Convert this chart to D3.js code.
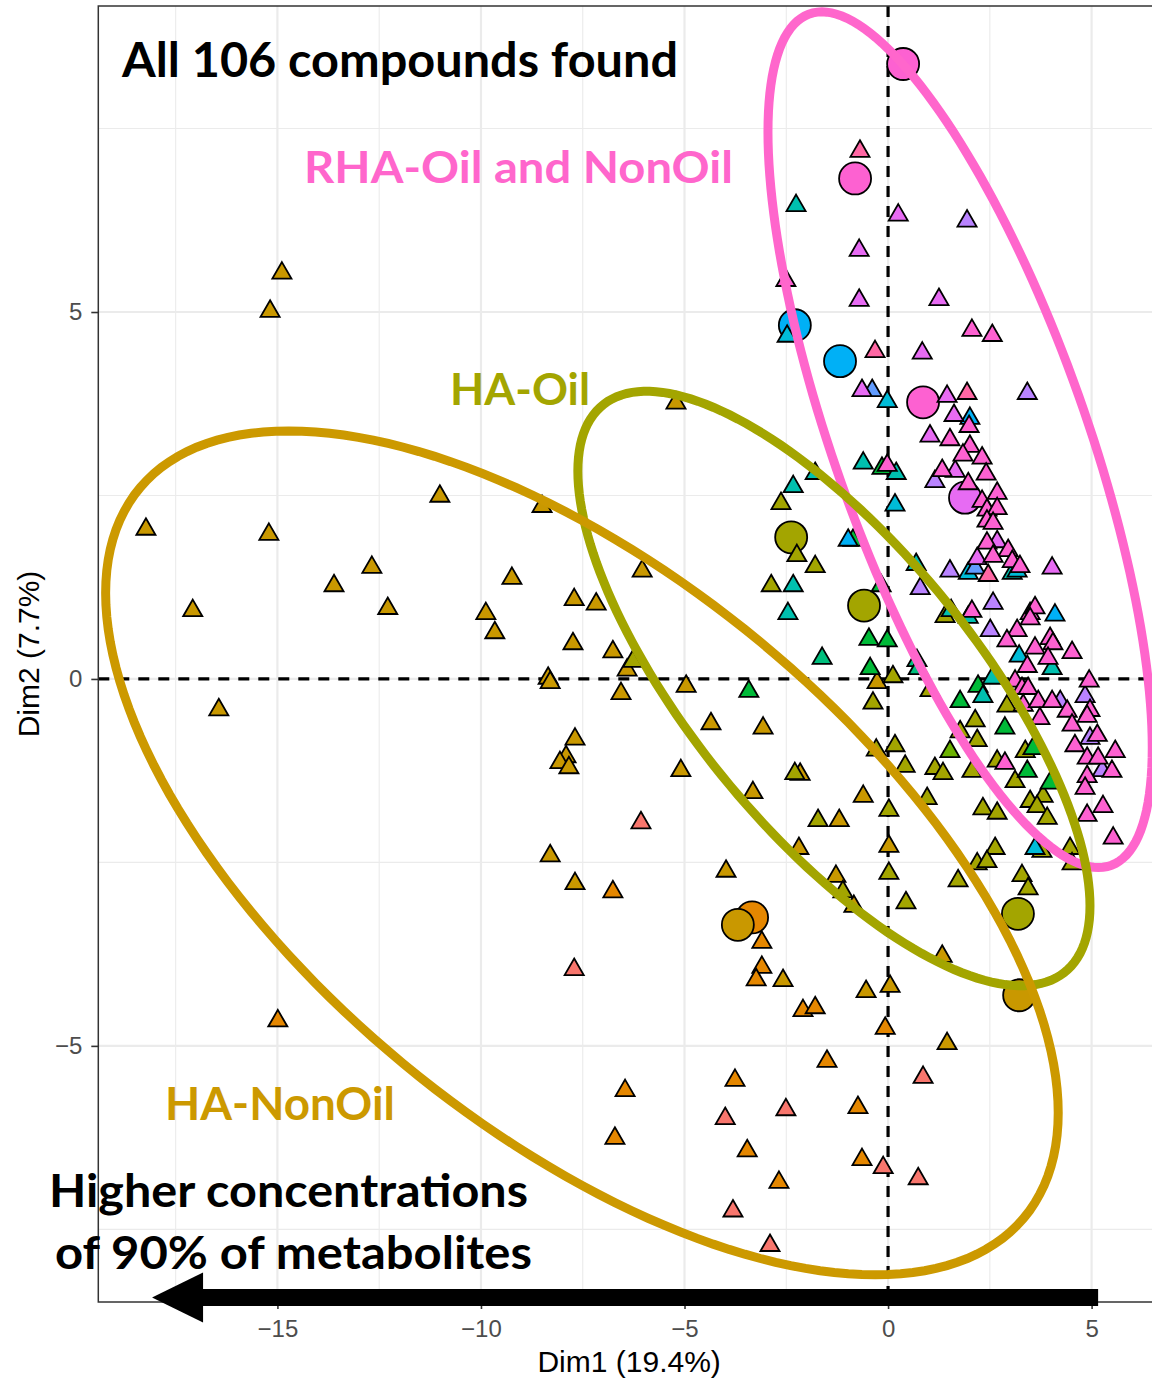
<!DOCTYPE html>
<html>
  <head>
    <meta charset="utf-8">
    <title>All 106 compounds - PCA</title>
    <style media="screen">
      body {margin:0; background:#fff}
      text {font-family: "Liberation Sans", Arial, sans-serif}
      .note {font-family: Lato, "Open Sans", sans-serif; font-weight: 700}
    </style>
  </head>
  <body>
    <script src="https://cdn.jsdelivr.net/npm/d3@7"></script>
    <script type="text/javascript">

    // individuals, [Dim1, Dim2], one array per group (15 groups)
    const g1 = [[-6.07,-1.96],[-7.71,-3.96],[0.86,-5.43],[-2.51,-5.87],[-4.00,-5.99],[-0.12,-6.66],[0.74,-6.81],[-3.81,-7.25],[-2.90,-7.72]]
    const g2 = [[-6.76,-2.90],[-14.99,-4.66],[-6.71,-6.26],[-6.46,-5.61],[-3.10,-3.59],[-3.10,-3.93],[-3.24,-4.10],[-2.09,-4.52],
      [-1.79,-4.48],[-0.07,-4.76],[-1.50,-5.21],[-3.76,-5.47],[-0.74,-5.84],[-3.46,-6.43],[-0.64,-6.55],[-2.68,-6.86]]
    const g3 = [[-14.89,5.53],[-15.18,5.01],[-18.23,2.04],[-15.21,1.97],[-17.08,0.93],[-16.44,-0.42],[-13.61,1.27],[-12.68,1.52],
      [-12.29,0.96],[-11.01,2.49],[-8.50,2.35],[-9.24,1.37],[-9.88,0.89],[-9.66,0.63],[-7.71,1.08],[-7.17,1.02],[-7.74,0.48],
      [-8.35,0.01],[-8.30,-0.05],[-7.69,-0.82],[-7.91,-1.06],[-8.06,-1.14],[-7.84,-1.21],[-5.21,3.76],[-6.04,1.47],[-6.76,0.37],
      [-6.41,0.12],[-6.56,-0.20],[-4.96,-0.10],[-4.35,-0.61],[-3.07,-0.67],[-5.09,-1.25],[-2.16,-1.30],[-3.32,-1.55],[-8.30,-2.41],
      [-7.69,-2.79],[-3.98,-2.62],[-2.58,-4.11],[-2.19,-2.31],[-1.20,-1.93],[-1.28,-2.69],[-0.84,-3.10],[0.02,-2.28],[1.33,-3.78],
      [-0.54,-4.26],[0.05,-4.19],[1.45,-4.97],[-0.61,-1.60],[-0.27,-0.05]]
    const g4 = [[-2.63,2.39],[-2.24,1.68],[-1.79,1.53],[-2.87,1.27],[-6.27,0.24],[-2.29,-1.29],[-1.72,-1.93],[-1.11,-2.90],
      [0.02,-1.79],[0.02,-2.65],[0.44,-3.05],[-0.37,-0.33],[-0.29,-0.97],[0.12,0.03],[0.17,-0.91],[0.42,-1.19],[0.96,-1.63],
      [1.03,-0.16],[1.40,0.85],[2.14,-0.57],[1.77,-0.72],[2.19,-0.84],[2.92,-0.37],[3.37,-0.99],[2.68,-1.12],[1.15,-1.22],
      [1.35,-1.29],[2.06,-1.26],[3.12,-1.40],[3.81,-1.60],[3.49,-1.67],[2.33,-1.77],[2.68,-1.83],[3.66,-1.74],[3.91,-1.90],
      [2.63,-2.31],[4.47,-2.31],[3.78,-2.35],[1.72,-2.75],[2.19,-2.52],[2.43,-2.49],[3.29,-2.68],[3.44,-2.86],[4.52,-2.52]]
    const g5 = [[1.52,-0.99]]
    const g6 = [[-3.42,-0.17],[-0.44,0.14],[-0.86,1.89],[-0.15,2.87],[-0.17,1.27],[-0.47,0.54],[-0.02,0.52],[2.21,-0.10],
      [1.77,-0.31],[2.87,-0.67],[3.56,-0.95],[3.42,-1.26],[3.98,-1.42]]
    const g7 = [[-1.62,0.28],[0.71,0.25],[0.74,0.14]]
    const g8 = [[-2.33,2.62],[-1.79,2.80],[-2.33,1.27],[-2.46,0.89],[-0.61,2.94],[0.20,2.80],[-2.26,6.45],[0.69,1.56],
      [1.55,0.93],[1.97,0.84],[2.33,-0.24],[2.56,0.01],[4.03,0.14],[3.05,1.44]]
    const g9 = [[-2.48,4.67],[-0.02,3.78],[0.17,2.37],[1.97,1.44],[3.22,0.31],[3.61,-2.31],[3.17,1.47]]
    const g10 = [[-0.98,1.89],[2.01,3.55],[4.10,0.87]]
    const g11 = [[-0.39,3.93],[2.14,1.51]]
    const g12 = [[1.94,6.24],[3.42,3.89],[1.15,2.69],[1.52,1.47],[0.79,1.23],[2.58,1.03],[2.51,0.66],[4.84,-0.24],
      [4.23,-0.31],[4.96,-0.81],[5.26,-1.25]]
    const g13 = [[0.25,6.32],[-0.71,5.84],[-0.71,5.16],[1.25,5.17],[0.84,4.44],[-0.64,3.93],[1.45,3.85],[1.62,3.59],
      [1.03,3.31],[1.65,2.83],[2.68,1.87],[2.19,1.64],[4.03,1.51]]
    const g14 = [[-2.51,5.43],[2.06,4.75],[2.56,4.68],[-0.02,2.91],[1.99,3.44],[1.52,3.26],[2.01,3.17],[1.84,3.05],
      [2.31,3.01],[1.33,2.84],[2.41,2.79],[1.97,2.66],[2.68,2.53],[2.31,2.42],[2.43,2.30],[2.68,2.32],[2.43,2.15],[2.58,2.12],
      [2.43,1.85],[2.95,1.75],[2.58,1.67],[3.05,1.60],[3.24,1.53],[2.06,0.92],[3.49,0.89],[3.61,0.97],[3.17,0.66],[2.92,0.52],
      [3.61,0.42],[3.98,0.55],[4.05,0.48],[3.93,0.28],[4.52,0.36],[3.42,0.17],[3.12,-0.03],[3.29,-0.13],[3.44,-0.13],
      [4.94,-0.03],[3.32,-0.36],[3.69,-0.31],[4.03,-0.31],[4.40,-0.44],[3.73,-0.54],[4.96,-0.43],[4.89,-0.51],[4.52,-0.63],
      [5.14,-0.77],[4.59,-0.91],[5.58,-0.99],[4.89,-1.08],[5.16,-1.08],[5.50,-1.26],[4.89,-1.33],[4.84,-1.49],[2.87,-1.15],
      [4.89,-1.86],[5.28,-1.74],[5.53,-2.17],[3.49,0.82]]
    const g15 = [[-0.69,7.19],[-0.32,4.46],[1.94,3.89],[2.46,1.41]]

    const groupPoints = [g1, g2, g3, g4, g5, g6, g7, g8, g9, g10, g11, g12, g13, g14, g15]

    // large points (group index is 0-based)
    const meanDim1 = [0.37, -0.81, -2.29, -1.18, 0.86, 1.89, -2.38, -0.59, -3.34, -3.69, 3.19, 3.22]
    const meanDim2 = [8.38, 6.82, 4.82, 4.33, 3.77, 2.47, 1.93, 1.00, -3.25, -3.35, -3.20, -4.31]
    const meanGroup = [13, 13, 9, 9, 13, 12, 3, 3, 1, 2, 3, 2]

    const xTicks = [-15, -10, -5, 0, 5]
    const yTicks = [-5, 0, 5]

    // hand-drawn ellipses: centre, half extent in x / y, phase (deg)
    const ellipseNames = ['RHA-Oil and NonOil', 'HA-Oil', 'HA-NonOil']
    const ellipseCentre = [[1.77, 3.26], [-1.33, -0.13], [-7.52, -2.37]]
    const ellipseHalf = [[4.72, 5.83], [6.29, 4.05], [11.70, 5.75]]
    const ellipsePhase = [44, 43, 52]

    const palette = ['#F8766D','#E58700','#C99800','#A3A500','#6BB100','#00BA38','#00BF7D','#00C0AF',
      '#00BCD8','#00B0F6','#619CFF','#B983FF','#E76BF3','#FD61D1','#FF67A4']
    const ellipseColours = ['#FF66CC', '#A3A500', '#CC9900']

    const W = 1152, H = 1379

    const svg = d3.select('body').append('svg')
      .attr('width', W)
      .attr('height', H)

    const x = d3.scaleLinear().domain([-19.4, 6.68]).range([98.3, 1160])
    const y = d3.scaleLinear().domain([-8.49, 9.17]).range([1302, 6])
    const colour = d3.scaleOrdinal().domain(d3.range(15)).range(palette)

    svg.append('clipPath').attr('id', 'panel')
      .append('rect').attr('x', 98.3).attr('y', 6).attr('width', 1160 - 98.3).attr('height', 1296)

    const grid = svg.append('g').attr('clip-path', 'url(#panel)')

    // minor grid
    grid.selectAll('.minx').data([-17.5, -12.5, -7.5, -2.5, 2.5]).join('line')
      .attr('x1', d => x(d)).attr('x2', d => x(d)).attr('y1', 6).attr('y2', 1302)
      .attr('stroke', '#EBEBEB').attr('stroke-width', 1.1)
    grid.selectAll('.miny').data([-7.5, -2.5, 2.5, 7.5]).join('line')
      .attr('y1', d => y(d)).attr('y2', d => y(d)).attr('x1', 98.3).attr('x2', 1160)
      .attr('stroke', '#EBEBEB').attr('stroke-width', 1.1)
    // major grid
    grid.selectAll('.majx').data(xTicks).join('line')
      .attr('x1', d => x(d)).attr('x2', d => x(d)).attr('y1', 6).attr('y2', 1302)
      .attr('stroke', '#EBEBEB').attr('stroke-width', 2.2)
    grid.selectAll('.majy').data(yTicks).join('line')
      .attr('y1', d => y(d)).attr('y2', d => y(d)).attr('x1', 98.3).attr('x2', 1160)
      .attr('stroke', '#EBEBEB').attr('stroke-width', 2.2)

    // zero lines
    grid.append('line')
      .attr('x1', x(0)).attr('x2', x(0)).attr('y1', 6).attr('y2', 1302)
      .attr('stroke', '#000').attr('stroke-width', 3.2).attr('stroke-dasharray', '11,9')
    grid.append('line')
      .attr('y1', y(0)).attr('y2', y(0)).attr('x1', 98.3).attr('x2', 1160)
      .attr('stroke', '#000').attr('stroke-width', 3.2).attr('stroke-dasharray', '11,9')

    // large circles
    const means = meanDim1.map((d, i) => ({x: d, y: meanDim2[i], g: meanGroup[i]}))
    svg.append('g').selectAll('circle').data(means).join('circle')
      .attr('cx', d => x(d.x)).attr('cy', d => y(d.y)).attr('r', 16)
      .attr('fill', d => colour(d.g)).attr('stroke', '#000').attr('stroke-width', 1.8)

    // triangles
    const tri = d3.symbol().type(d3.symbolTriangle).size(158)
    const pts = groupPoints.flatMap((arr, g) => arr.map(p => ({x: p[0], y: p[1], g})))
    svg.append('g').selectAll('path').data(pts).join('path')
      .attr('d', tri)
      .attr('transform', d => `translate(${x(d.x)},${y(d.y)})`)
      .attr('fill', d => colour(d.g)).attr('stroke', '#000').attr('stroke-width', 1.8)
      .attr('stroke-linejoin', 'miter')

    // panel border
    svg.append('rect')
      .attr('x', 98.3).attr('y', 6).attr('width', 1160 - 98.3).attr('height', 1296)
      .attr('fill', 'none').attr('stroke', '#333').attr('stroke-width', 1.5)

    // axes
    const xAxis = svg.append('g').attr('transform', 'translate(0,1302)')
      .call(d3.axisBottom(x).tickValues(xTicks).tickSize(7).tickPadding(11))
    const yAxis = svg.append('g').attr('transform', 'translate(98.3,0)')
      .call(d3.axisLeft(y).tickValues(yTicks).tickSize(7).tickPadding(9))
    for (const ax of [xAxis, yAxis]) {
      ax.select('.domain').remove()
      ax.selectAll('line').attr('stroke', '#333').attr('stroke-width', 1.6)
      ax.selectAll('text').attr('fill', '#4D4D4D').attr('font-size', 24)
        .attr('font-family', '"Liberation Sans", Arial, sans-serif')
    }

    svg.append('text')
      .attr('x', (98.3 + 1160) / 2).attr('y', 1372)
      .attr('text-anchor', 'middle').attr('font-size', 30).attr('fill', '#000')
      .text('Dim1 (19.4%)')
    svg.append('text')
      .attr('transform', 'translate(39,654) rotate(-90)')
      .attr('text-anchor', 'middle').attr('font-size', 30).attr('fill', '#000')
      .text('Dim2 (7.7%)')

    // ellipses
    const ell = d3.line().x(d => x(d[0])).y(d => y(d[1])).curve(d3.curveLinearClosed)
    const angles = d3.range(0, 360, 2).map(a => a * Math.PI / 180)
    ellipseNames.forEach((name, i) => {
      const [cx, cy] = ellipseCentre[i]
      const [rx, ry] = ellipseHalf[i]
      const ph = ellipsePhase[i] * Math.PI / 180
      const ring = angles.map(t => [cx + rx * Math.cos(t), cy - ry * Math.cos(t + ph)])
      svg.append('path')
        .attr('d', ell(ring))
        .attr('fill', 'none').attr('stroke', ellipseColours[i]).attr('stroke-width', 9)
    })

    // text notes
    const notes = [
      {t: 'All 106 compounds found', x: 122, y: 77, s: 47, w: 556, c: '#000'},
      {t: ellipseNames[0], x: 304, y: 183, s: 43, w: 429, c: ellipseColours[0]},
      {t: ellipseNames[1], x: 450, y: 405, s: 43, w: 140, c: ellipseColours[1]},
      {t: ellipseNames[2], x: 165, y: 1120, s: 46, w: 230, c: ellipseColours[2]},
      {t: 'Higher concentrations', x: 49, y: 1207, s: 45, w: 479, c: '#000'},
      {t: 'of 90% of metabolites', x: 55, y: 1269, s: 45, w: 477, c: '#000'}
    ]
    svg.append('g').selectAll('text').data(notes).join('text')
      .attr('class', 'note')
      .attr('x', d => d.x).attr('y', d => d.y)
      .attr('font-size', d => d.s).attr('fill', d => d.c)
      .attr('textLength', d => d.w).attr('lengthAdjust', 'spacingAndGlyphs')
      .text(d => d.t)

    // arrow along the bottom
    const tail = x(5.16), tip = x(-18.08), ay = y(-8.43)
    svg.append('line')
      .attr('x1', tail).attr('x2', tip + 48).attr('y1', ay).attr('y2', ay)
      .attr('stroke', '#000').attr('stroke-width', 17)
    svg.append('path')
      .attr('d', `M${tip},${ay} L${tip + 51},${ay - 25} L${tip + 51},${ay + 25} Z`)
      .attr('fill', '#000')

    </script>
  </body>
</html>
